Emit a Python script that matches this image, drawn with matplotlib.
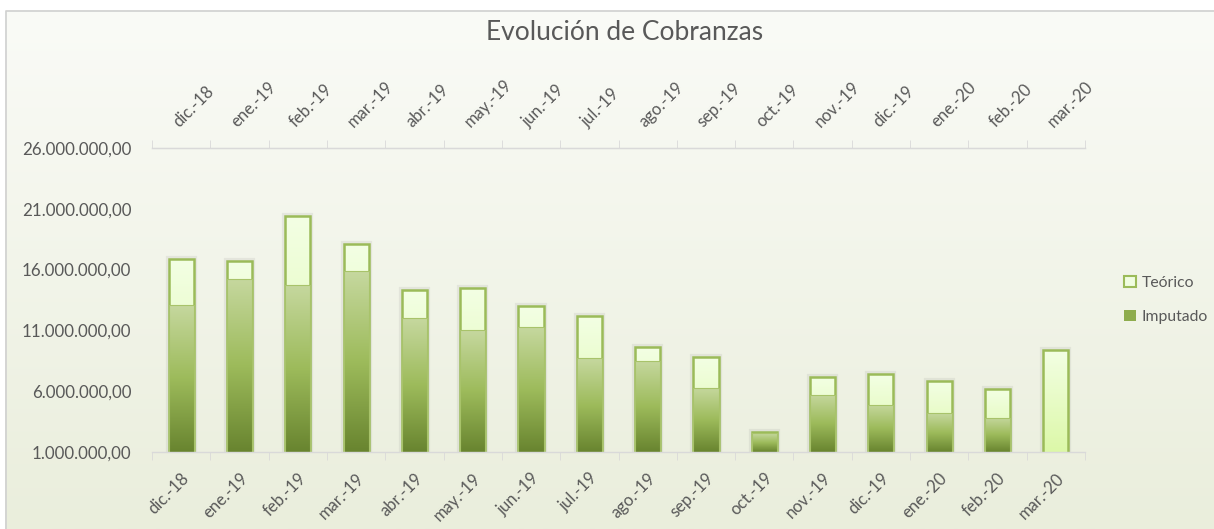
import numpy as np
import matplotlib
matplotlib.use("Agg")
import matplotlib.pyplot as plt
from matplotlib.colors import LinearSegmentedColormap
from matplotlib.patches import Rectangle, Patch

# ---- data (values in units) ----
months = ['dic.-18', 'ene.-19', 'feb.-19', 'mar.-19', 'abr.-19', 'may.-19',
          'jun.-19', 'jul.-19', 'ago.-19', 'sep.-19', 'oct.-19', 'nov.-19',
          'dic.-19', 'ene.-20', 'feb.-20', 'mar.-20']
teorico = [16.9e6, 16.7e6, 20.4e6, 18.1e6, 14.3e6, 14.5e6, 13.0e6, 12.2e6,
           9.6e6, 8.8e6, 2.65e6, 7.2e6, 7.4e6, 6.8e6, 6.2e6, 9.4e6]
imputado = [13.1e6, 15.25e6, 14.75e6, 15.85e6, 12.0e6, 11.0e6, 11.25e6, 8.7e6,
            8.5e6, 6.3e6, 2.55e6, 5.7e6, 4.9e6, 4.2e6, 3.8e6, 0.0]
yticks = [1e6, 6e6, 11e6, 16e6, 21e6, 26e6]

TEXT = '#595959'
GRID = '#d9d9d9'
EDGE = '#9bbb59'
plt.rcParams['font.family'] = ['Lato', 'DejaVu Sans']

cmap_imp = LinearSegmentedColormap.from_list(
    'imp', [(0.0, '#68842f'), (0.5, '#9dbb5b'), (1.0, '#c6d89f')])
cmap_teo = LinearSegmentedColormap.from_list(
    'teo', [(0.0, '#dcf8a8'), (1.0, '#f3ffe4')])

W, H = 1214, 529
fig = plt.figure(figsize=(W / 100, H / 100), dpi=100)
fig.patch.set_facecolor('white')

# background with gradient and border
bg = fig.add_axes([0, 0, 1, 1], zorder=0)
bg.set_xlim(0, W)
bg.set_ylim(H, 0)
bg.axis('off')
bgcm = LinearSegmentedColormap.from_list('bg', ['#eaeedc', '#fafbf7'])
grad = np.linspace(1, 0, 256).reshape(-1, 1)
bg.imshow(grad, cmap=bgcm, extent=[5, W, H, 10], aspect='auto', vmin=0, vmax=1)
bg.plot([5.5, 5.5, W], [H, 10.5, 10.5], color='#d0d0d0', lw=1.2)
bg.set_xlim(0, W)
bg.set_ylim(H, 0)

ax = fig.add_axes([152 / W, 1 - 452 / H, (1085 - 152) / W, (452 - 148) / H], zorder=1)
ax.patch.set_alpha(0)

x = np.arange(len(months))
width = 0.43
YMIN, YMAX = 1e6, 26e6


def grad_fill(rect, cmap, z):
    x0 = rect.get_x()
    w = rect.get_width()
    y0 = max(rect.get_y(), YMIN)
    y1 = rect.get_y() + rect.get_height()
    if y1 <= y0:
        return
    im = ax.imshow(grad, cmap=cmap, extent=[x0, x0 + w, y0, y1],
                   aspect='auto', origin='upper', vmin=0, vmax=1, zorder=z)
    im.set_clip_path(rect)


teo_bars = ax.bar(x, teorico, width, facecolor='none', edgecolor=EDGE,
                  linewidth=1.8, zorder=2.0)
imp_bars = ax.bar(x, imputado, width, facecolor='none', edgecolor='#a8c36a',
                  linewidth=0.8, zorder=2.2)

for r in teo_bars:
    # soft shadow
    ax.add_patch(Rectangle((r.get_x(), r.get_y()), r.get_width(), r.get_height(),
                           facecolor='none', edgecolor='#7f7f7f', alpha=0.12,
                           linewidth=4.5, zorder=1.8))
    grad_fill(r, cmap_teo, 1.9)
for r, v in zip(imp_bars, imputado):
    if v > 0:
        grad_fill(r, cmap_imp, 2.1)
    else:
        r.set_visible(False)

ax.set_xlim(-0.5, len(months) - 0.5)
ax.set_ylim(YMIN, YMAX)

# y axis
ax.set_yticks(yticks)
ax.set_yticklabels([f"{v:,.2f}".replace(',', 'X').replace('.', ',').replace('X', '.')
                    for v in yticks])
ax.tick_params(axis='y', length=0, pad=15, labelsize=12.2, labelcolor=TEXT)

for s in ['left', 'right']:
    ax.spines[s].set_visible(False)
for s in ['top', 'bottom']:
    ax.spines[s].set_color(GRID)
    ax.spines[s].set_linewidth(1.0)

# bottom x axis
ax.set_xticks(x)
ax.set_xticklabels(months, rotation=45, ha='right', va='top', rotation_mode='anchor')
ax.set_xticks(np.arange(-0.5, len(months), 1.0), minor=True)
ax.tick_params(axis='x', which='major', length=0, pad=13, labelsize=12, labelcolor=TEXT)
ax.tick_params(axis='x', which='minor', length=6, color=GRID, direction='out')

# top x axis
sec = ax.secondary_xaxis('top')
sec.set_xticks(x)
sec.set_xticklabels(months, rotation=45, ha='left', va='bottom', rotation_mode='anchor')
sec.set_xticks(np.arange(-0.5, len(months), 1.0), minor=True)
sec.tick_params(axis='x', which='major', length=0, pad=13, labelsize=12, labelcolor=TEXT)
sec.tick_params(axis='x', which='minor', length=6, color=GRID, direction='out')
sec.spines['top'].set_color(GRID)

# title
fig.text(625 / W, 1 - 33 / H, 'Evolución de Cobranzas', ha='center', va='center',
         fontsize=19, color=TEXT)

# legend
handles = [Patch(facecolor='#f0fde0', edgecolor=EDGE, linewidth=1.5),
           Patch(facecolor='#8eac4d', edgecolor='none')]
leg = fig.legend(handles, ['Teórico', 'Imputado'], loc='center left',
                 bbox_to_anchor=(1110 / W, 1 - 300 / H), frameon=False,
                 fontsize=11.3, handlelength=0.75, handleheight=0.75,
                 labelspacing=1.25, handletextpad=0.35, labelcolor=TEXT)

fig.savefig('out.png', dpi=100)
